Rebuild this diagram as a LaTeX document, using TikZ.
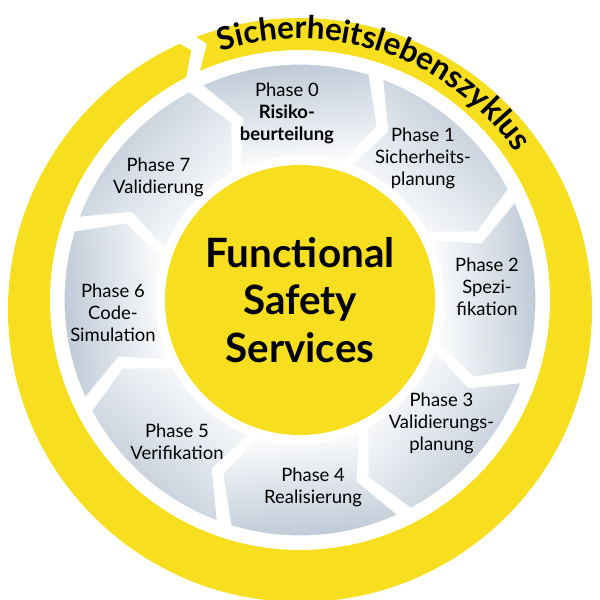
\documentclass[tikz,border=0pt]{standalone}
\usepackage{fontspec}
\setmainfont{Lato}
\usetikzlibrary{decorations.text}
\definecolor{ringyellow}{RGB}{247,222,30}
\definecolor{segblue}{RGB}{186,198,212}
\tikzset{
  segment/.style={left color=white, right color=segblue, draw=white, line width=0.6pt},
  phase/.style={align=center, font=\fontsize{10.5}{12.5}\selectfont, inner sep=1pt},
}
\newcommand{\segpath}[2]{% start angle, end angle
  (#1:4.72) arc[start angle=#1, end angle=#2, radius=4.72] -- (#2-7:3.8) -- (#2:2.88)
  arc[start angle=#2, end angle=#1, radius=2.88] -- (#1-7:3.8) -- cycle}
\begin{document}
\begin{tikzpicture}
  \useasboundingbox (-6,-6) rectangle (6,6);
  % Outer ring
  \fill[ringyellow, even odd rule] (0,-0.2) circle (5.84) (0,0) circle (5.0);
  % Gap in the ring
  \fill[white] (118:4.9) -- (113.5:5.45) -- (118:6.1) -- (114.5:6.1) -- (110:5.45) -- (114.5:4.9) -- cycle;
  % Title along the ring
  \path[decorate, decoration={text along path, text align=center,
      text={|\fontsize{18}{18}\selectfont\bfseries|Sicherheitslebenszyklus}}]
    (111:5.22) arc[start angle=111, end angle=31, radius=5.22];
  % Segments
  \foreach \c/\txt [count=\i from 0] in {
      94/{Phase 0\\\textbf{Risiko-}\\\textbf{beurteilung}},
      49/{Phase 1\\Sicherheits-\\planung},
      4/{Phase 2\\Spezi-\\fikation},
      -41/{Phase 3\\Validierungs-\\planung},
      -86/{Phase 4\\Realisierung},
      -131/{Phase 5\\Verifikation},
      -176/{Phase 6\\Code-\\Simulation},
      -221/{Phase 7\\Validierung}} {
    \pgfmathsetmacro{\a}{\c+20.5}
    \pgfmathsetmacro{\b}{\c-21}
    \pgfmathsetmacro{\sh}{\c+90}
    \path[segment, shading angle=\sh] \segpath{\a}{\b};
    \node[phase] (p\i) at (\c:3.75) {\txt};
  }
  % Centre
  \fill[ringyellow] (0,0) circle (2.7);
  \node[align=center, font=\fontsize{23}{27}\selectfont\bfseries] (fss) at (0,0)
    {Functional\\Safety\\Services};
\end{tikzpicture}
\end{document}
